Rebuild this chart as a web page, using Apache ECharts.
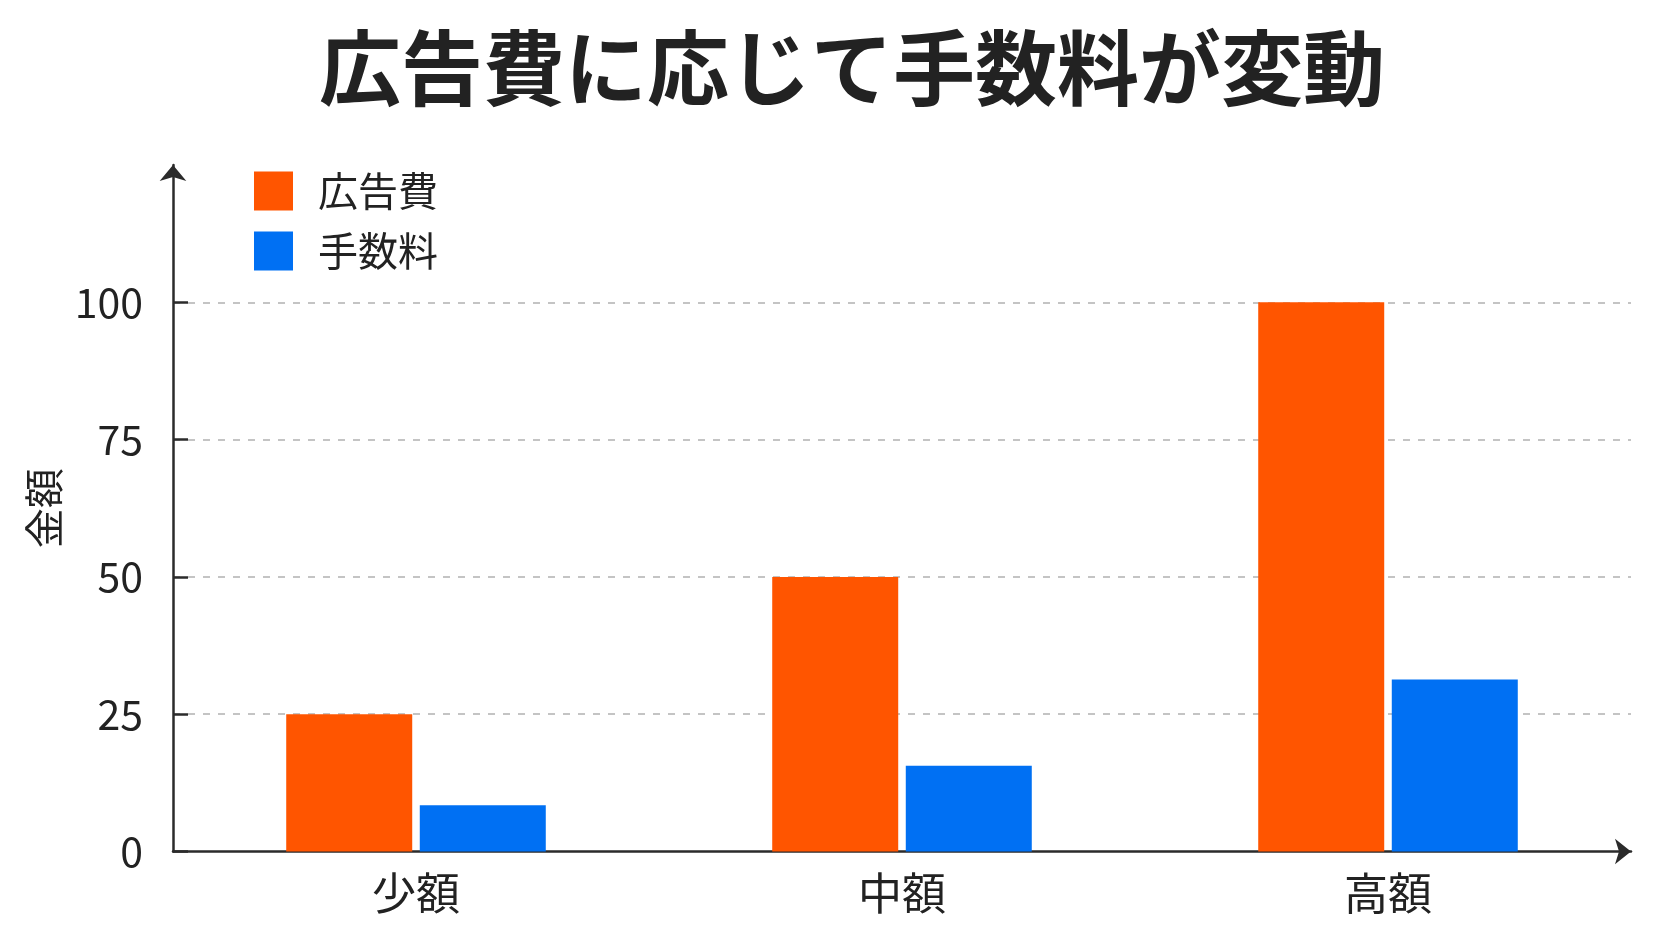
<!DOCTYPE html>
<html>
<head>
<meta charset="utf-8">
<script src="https://cdn.jsdelivr.net/npm/echarts@6/dist/echarts.min.js"></script>
<style>
html,body{margin:0;padding:0;background:#ffffff;}
#chart{width:1672px;height:941px;}
</style>
</head>
<body>
<div id="chart"></div>
<script>
const titleText = '広告費に応じて手数料が変動';
const categories = ['少額', '中額', '高額'];
const seriesNames = ['広告費', '手数料'];
const adCost = [25, 50, 100];
const fee = [8.4, 15.6, 31.3];
const yTickLabels = [0, 25, 50, 75, 100];
const yAxisName = '金額';

const FONT = '"Noto Sans CJK JP", "Noto Sans", sans-serif';
const chart = echarts.init(document.getElementById('chart'), null, {renderer: 'canvas'});
chart.setOption({
  backgroundColor: '#ffffff',
  animation: false,
  title: {
    text: titleText,
    left: 314,
    top: 22,
    textStyle: {fontFamily: FONT, fontSize: 82, fontWeight: 'bold', color: '#222222'}
  },
  legend: {
    orient: 'vertical',
    left: 249,
    top: 166,
    itemWidth: 39,
    itemHeight: 39,
    itemGap: 20,
    icon: 'rect',
    textStyle: {fontFamily: FONT, fontSize: 40, lineHeight: 39, color: '#222222', padding: [0, 0, 0, 20]},
    data: seriesNames
  },
  grid: {left: 173, right: 41, top: 165, bottom: 89.5, containLabel: false},
  xAxis: {
    type: 'category',
    data: categories,
    axisLine: {show: true, lineStyle: {color: '#2b2b2b', width: 2.5}, symbol: ['none', 'arrow'], symbolSize: [19, 16]},
    axisTick: {show: false},
    axisLabel: {fontFamily: FONT, fontSize: 44, color: '#222222', margin: 20},
    splitLine: {show: false}
  },
  yAxis: {
    type: 'value',
    min: 0,
    max: 125,
    interval: 25,
    name: yAxisName,
    nameLocation: 'middle',
    nameGap: 108,
    nameRotate: 90,
    nameTextStyle: {fontFamily: FONT, fontSize: 40, color: '#222222', fontWeight: 'normal'},
    axisLine: {show: true, lineStyle: {color: '#2b2b2b', width: 2.5}, symbol: ['none', 'arrow'], symbolSize: [20, 16]},
    axisTick: {show: true, inside: true, length: 15, lineStyle: {color: '#2b2b2b', width: 2.5}, customValues: yTickLabels},
    axisLabel: {
      fontFamily: FONT, fontSize: 41, color: '#222222', margin: 30,
      customValues: yTickLabels,
      formatter: function (v) { return yTickLabels.indexOf(v) >= 0 ? String(v) : ''; }
    },
    splitLine: {show: true, showMinLine: false, lineStyle: {color: '#c4c4c4', width: 2, type: [7, 8]}}
  },
  series: [
    {name: seriesNames[0], type: 'bar', data: adCost, barWidth: 126, barGap: '6%', itemStyle: {color: '#FF5500'}},
    {name: seriesNames[1], type: 'bar', data: fee, barWidth: 126, itemStyle: {color: '#0070F3'}}
  ]
});
</script>
</body>
</html>
